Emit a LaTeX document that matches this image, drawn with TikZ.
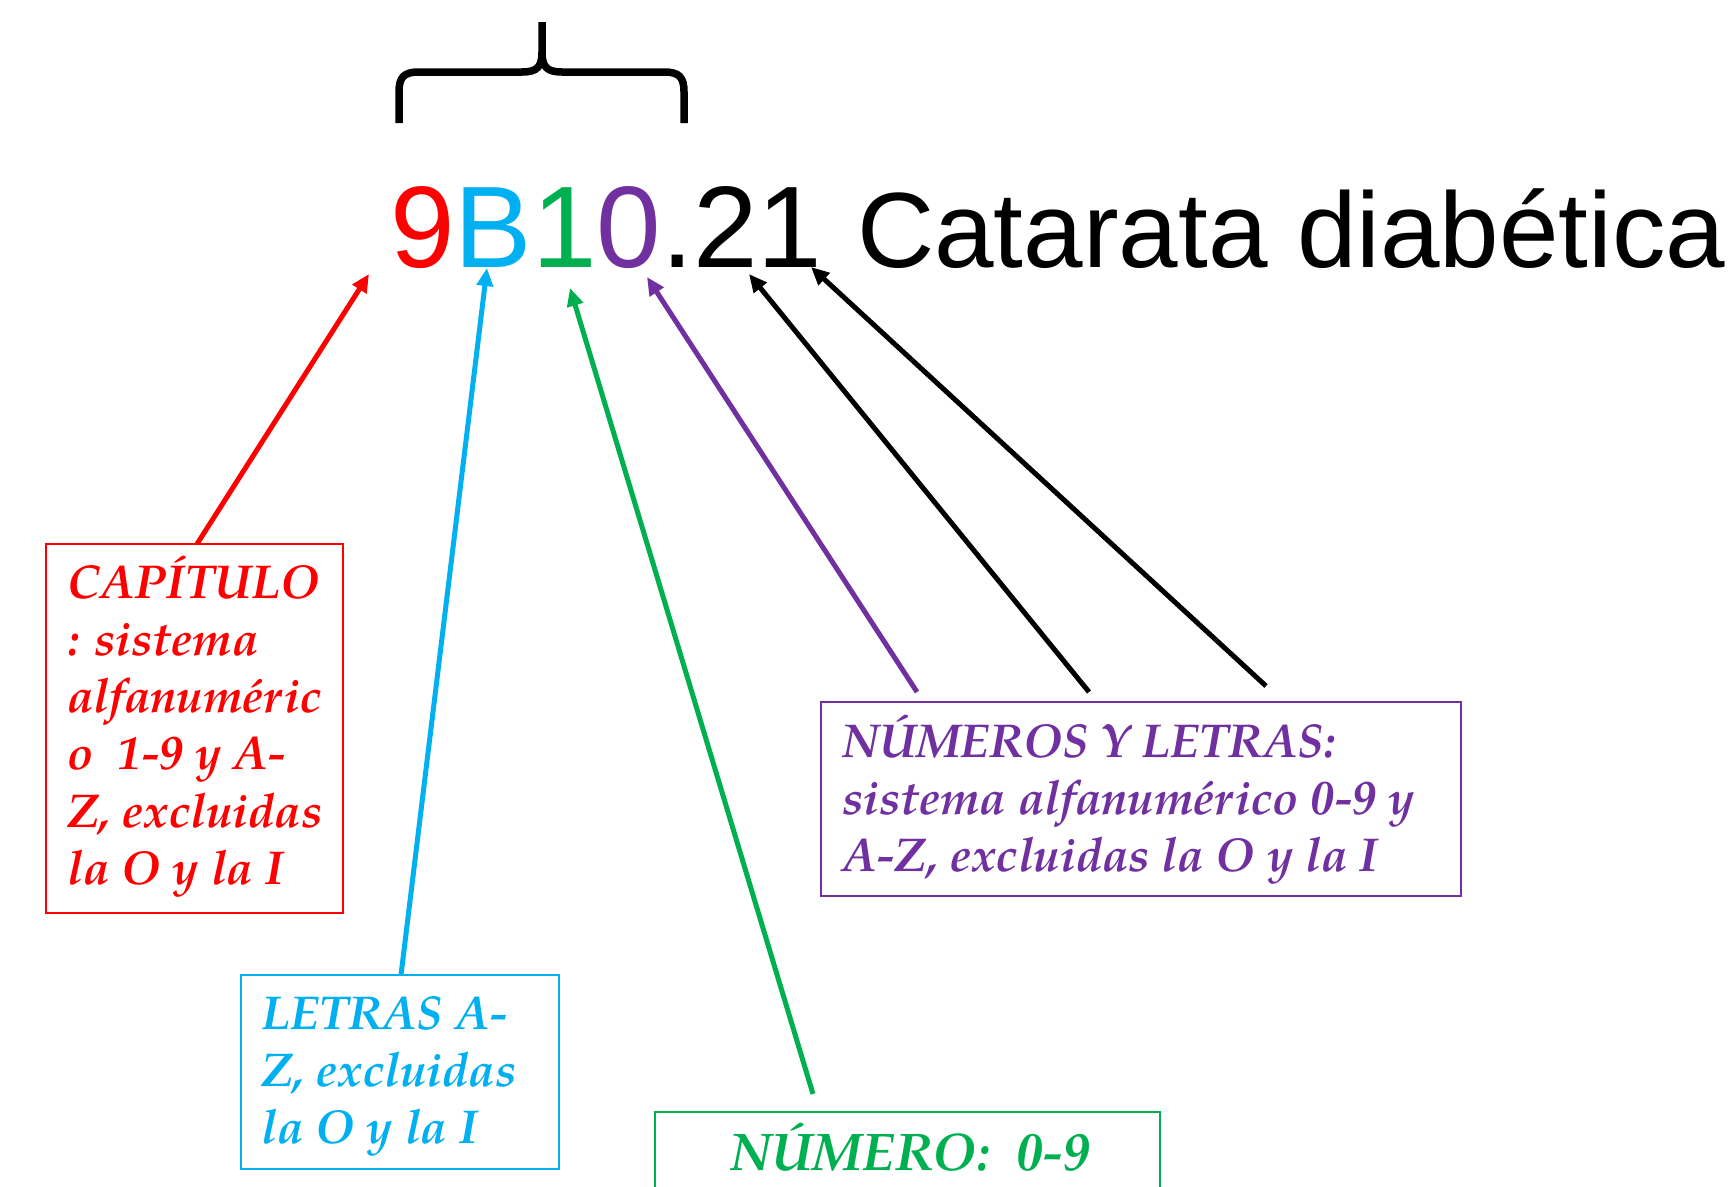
\documentclass[tikz,border=0pt]{standalone}
\usepackage{fontspec}
\usetikzlibrary{arrows.meta}
\newfontfamily\arialf{Liberation Sans}
\newfontfamily\palf{texgyrepagella}[Extension=.otf, UprightFont=*-regular, BoldFont=*-bold, ItalicFont=*-italic, BoldItalicFont=*-bolditalic]
\definecolor{cRed}{HTML}{FF0000}
\definecolor{cCyan}{HTML}{00B0F0}
\definecolor{cGreen}{HTML}{00B050}
\definecolor{cPurple}{HTML}{7030A0}
\begin{document}
\begin{tikzpicture}[x=1pt,y=-1pt,
  box/.style={draw, line width=2pt, inner sep=0pt, outer sep=0pt, anchor=north west},
  lbl/.style={inner sep=0pt, anchor=base west, font=\palf\bfseries\itshape\fontsize{47.5}{57.3}\selectfont},
  arr/.style={line width=5pt, -{Triangle[length=18pt,width=16pt]}},
  brace/.style={line width=7.5pt}]
\fill[white] (0,0) rectangle (1734,1186);
\useasboundingbox (0,0) rectangle (1734,1186);

% brace
\draw[brace] (399,123) -- (399,92) .. controls (399,77) and (404,72) .. (419,72) -- (522,72) .. controls (537,72) and (542,67) .. (542,52) -- (542,22);
\draw[brace] (684,123) -- (684,92) .. controls (684,77) and (679,72) .. (664,72) -- (562,72) .. controls (547,72) and (542,67) .. (542,52);

% main code and title
\node[anchor=base west, inner sep=0pt, font=\arialf\fontsize{116}{116}\selectfont] (code) at (390,267)
  {\textcolor{cRed}{9}\textcolor{cCyan}{B}\textcolor{cGreen}{1}\textcolor{cPurple}{0}.21};
\node[anchor=base west, inner sep=0pt, font=\arialf\fontsize{107}{107}\selectfont] (title) at (857,267) {Catarata diabética};

% boxes
\node[box, draw=cRed, minimum width=297pt, minimum height=369pt] (rbox) at (46,544) {};
\node[box, draw=cCyan, minimum width=318pt, minimum height=194pt] (cbox) at (241,975) {};
\node[box, draw=cGreen, minimum width=505pt, minimum height=140pt] (gbox) at (655,1112) {};
\node[box, draw=cPurple, minimum width=640pt, minimum height=194pt] (pbox) at (821,702) {};

% box texts
\node[lbl, text=cRed] (rtext) at (67,598) {\vtop{\hbox{CAPÍTULO}\hbox{: sistema}\hbox{alfanuméric}\hbox{o\ \ 1-9 y A-}\hbox{Z, excluidas}\hbox{la O y la I}}};
\node[lbl, text=cCyan] (ctext) at (261,1029) {\vtop{\hbox{LETRAS A-}\hbox{Z, excluidas}\hbox{la O y la I}}};
\node[lbl, anchor=base, text=cGreen, font=\palf\bfseries\itshape\fontsize{53}{60}\selectfont] (gtext) at (910,1170) {NÚMERO:\ \ 0-9};
\node[lbl, text=cPurple] (ptext) at (842,757) {\vtop{\hbox{NÚMEROS Y LETRAS:}\hbox{sistema alfanumérico 0-9 y}\hbox{A-Z, excluidas la O y la I}}};

% arrow tips
\coordinate (tR) at (369,274);
\coordinate (tC) at (487,268);
\coordinate (tG) at (570,288);
\coordinate (tP) at (647,277);
\coordinate (tK1) at (749,274);
\coordinate (tK2) at (811,267);
% arrow tails
\coordinate (sR) at (197,544);
\coordinate (sC) at (401,975);
\coordinate (sG) at (813,1094);
\coordinate (sP) at (917,692);
\coordinate (sK1) at (1089,692);
\coordinate (sK2) at (1266,686);

\draw[arr, cRed] (sR) -- (tR);
\draw[arr, cCyan] (sC) -- (tC);
\draw[arr, cGreen] (sG) -- (tG);
\draw[arr, cPurple] (sP) -- (tP);
\draw[arr, black] (sK1) -- (tK1);
\draw[arr, black] (sK2) -- (tK2);
\end{tikzpicture}
\end{document}
